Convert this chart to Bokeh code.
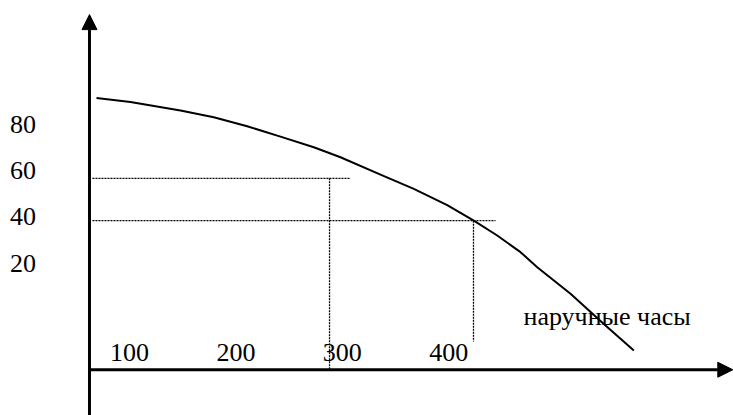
from bokeh.plotting import figure
from bokeh.models import Range1d, Arrow, NormalHead
from bokeh.core.properties import value
from bokeh.embed import file_html
from bokeh.resources import INLINE

# ---- data ----
# demand curve for wrist watches (quantity, price)
quantity = [69.0, 100.9, 147.9, 179.2, 210.6, 241.9, 273.2, 298.3, 335.9, 367.2,
            398.6, 423.6, 445.6, 467.5, 483.2, 514.5, 545.8, 574.0]
price = [91.4, 89.7, 86.0, 83.1, 79.2, 74.7, 70.1, 65.8, 58.3, 52.1,
         45.1, 38.4, 32.0, 24.8, 18.3, 6.8, -6.2, -17.7]

x_tick_values = [100, 200, 300, 400]
x_tick_labels = ["100", "200", "300", "400"]
y_tick_values = [80, 60, 40, 20]
y_tick_labels = ["80", "60", "40", "20"]

# dotted guide lines: price level and matching quantity
guide_price = [56.7, 38.4]
guide_price_end_q = [307.8, 444.0]
guide_quantity = [288.0, 423.3]
guide_quantity_bottom = [-26.0, -13.8]

curve_label = "наручные часы"
curve_label_pos = (470.3, -3.0)

# ---- layout constants ----
axis_q = 62.4        # position of the vertical axis
axis_p = -26.0       # position of the horizontal axis
FONT = value("Liberation Serif")
FS = "26px"
W, H = 733, 415
X0 = -21.24
Y1 = 133.5

p = figure(width=W, height=H, output_backend="svg", toolbar_location=None,
           x_range=Range1d(X0, X0 + W / 1.064), y_range=Range1d(Y1 - H / 2.315, Y1),
           min_border=0, outline_line_color=None)
p.axis.visible = False
p.grid.visible = False
p.background_fill_color = "white"
p.border_fill_color = "white"

# axes as arrows
p.add_layout(Arrow(end=NormalHead(size=15, fill_color="black", line_color="black", line_width=1),
                   x_start=axis_q, y_start=Y1 - H / 2.315, x_end=axis_q, y_end=127.4,
                   line_width=3, line_color="black"))
p.add_layout(Arrow(end=NormalHead(size=15, fill_color="black", line_color="black", line_width=1),
                   x_start=axis_q, y_start=axis_p, x_end=667.0, y_end=axis_p,
                   line_width=3, line_color="black"))

# dotted guides
for lvl, qend in zip(guide_price, guide_price_end_q):
    p.line([axis_q + 2.8, qend], [lvl, lvl], line_color="black", line_width=1.3,
           line_dash="2 1")
for q, bottom, lvl in zip(guide_quantity, guide_quantity_bottom, guide_price):
    p.line([q, q], [lvl, bottom], line_color="black", line_width=1.3,
           line_dash="2 1")

# demand curve
p.line(quantity, price, line_color="black", line_width=2, line_join="round")

# tick labels
p.text(x=x_tick_values, y=[-18.6] * len(x_tick_values), text=x_tick_labels,
       text_font=FONT, text_font_size=FS, text_align="center",
       text_baseline="middle", text_color="black")
p.text(x=[0] * len(y_tick_values), y=y_tick_values, text=y_tick_labels,
       text_font=FONT, text_font_size=FS, text_align="center",
       text_baseline="middle", text_color="black")

p.text(x=[curve_label_pos[0]], y=[curve_label_pos[1]], text=[curve_label],
       text_font=FONT, text_font_size=FS, text_align="left",
       text_baseline="alphabetic", text_color="black")

open("out.html", "w").write(file_html(p, INLINE))
